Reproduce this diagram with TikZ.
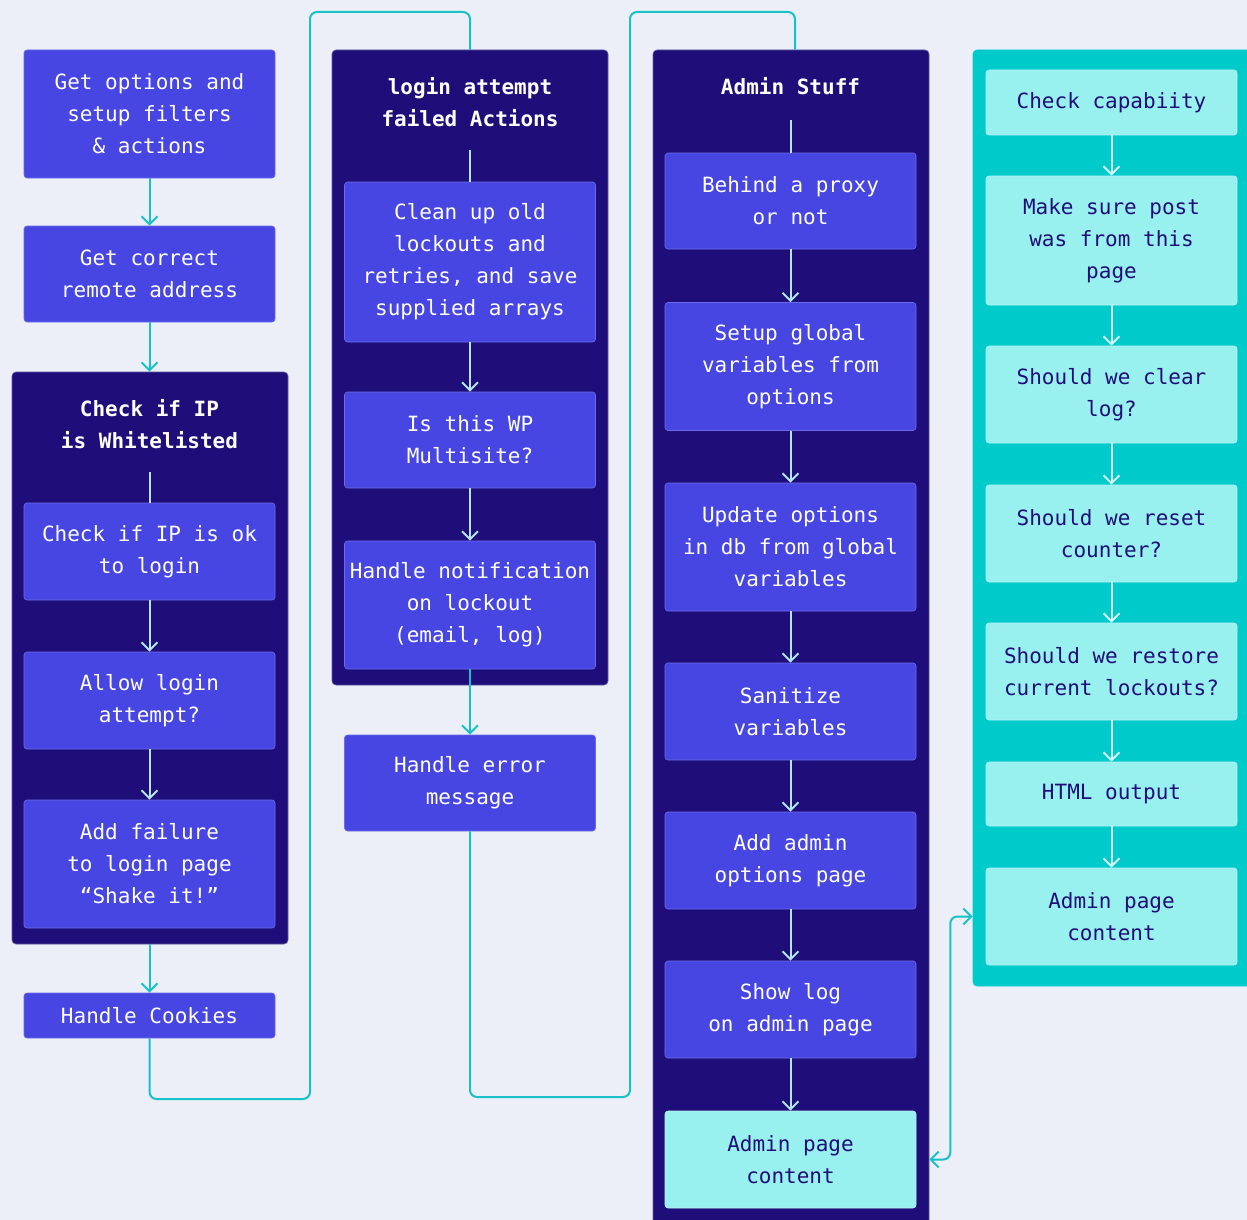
\documentclass[tikz,border=0pt]{standalone}
\usepackage{fontspec}
\setmainfont{DejaVu Sans Mono}
\usepackage{xcolor}
\usetikzlibrary{arrows.meta, positioning}

\definecolor{bgpage}{HTML}{ECEFF8}
\definecolor{stepblue}{HTML}{4746E3}
\definecolor{grpdark}{HTML}{1F0E79}
\definecolor{grpcyan}{HTML}{00CACA}
\definecolor{lightcyan}{HTML}{98F0EF}
\definecolor{linkcyan}{HTML}{17C1C7}
\definecolor{innerline}{HTML}{B4E6F0}
\definecolor{permline}{HTML}{D4F8F7}

\tikzset{
  chev/.tip={Straight Barb[length=8pt,width=16pt]},
  stepbox/.style={rectangle, rounded corners=3pt, fill=stepblue,
    draw=stepblue!80!white, line width=0.6pt, text=white, align=center,
    minimum width=251pt, inner sep=2pt, font=\fontsize{21}{32}\selectfont},
  lightbox/.style={stepbox, fill=lightcyan, draw=lightcyan!70!white, text=grpdark},
  grpbox/.style={rectangle, rounded corners=4pt, fill=grpdark,
    draw=grpdark!70!white, line width=0.6pt, minimum width=276pt},
  grptitle/.style={text=white, align=center, font=\fontsize{21}{32}\selectfont\bfseries},
  linkline/.style={draw=linkcyan, line width=2pt, rounded corners=7pt},
  flowline/.style={linkline, -chev},
  inflow/.style={flowline, draw=innerline},
  inline/.style={linkline, draw=innerline},
  permflow/.style={flowline, draw=permline},
}

\begin{document}
\begin{tikzpicture}[x=1pt, y=-1pt]

\useasboundingbox (0,0) rectangle (1247,1220);
\fill[bgpage] (0,0) rectangle (1247,1220);

% containers
\node[grpbox, minimum height=572pt] (wl) at (150,658) {};
\node[grpbox, minimum height=635pt] (fa) at (470,367.5) {};
\node[grpbox, minimum height=1190pt] (adm) at (791,645) {};
\node[grpbox, fill=grpcyan, draw=grpcyan, minimum width=290pt,
      minimum height=936pt] (perm) at (1118,518) {};

% column 1
\node[stepbox, minimum height=128pt] (opts) at (149.5,114)
  {Get options and\\setup filters\\\& actions};
\node[stepbox, minimum height=96pt] (addr) at (149.5,274)
  {Get correct\\remote address};
\node[grptitle] (wlt) at (149.5,424) {Check if IP\\is Whitelisted};
\coordinate (wltop) at (149.5,472);
\node[stepbox, minimum height=97pt] (ipok) at (149.5,551.5)
  {Check if IP is ok\\to login};
\node[stepbox, minimum height=97pt] (allow) at (149.5,700.5)
  {Allow login\\attempt?};
\node[stepbox, minimum height=128pt] (fail) at (149.5,864)
  {Add failure\\to login page\\“Shake it!”};
\node[stepbox, minimum height=45pt] (cookies) at (149.5,1015.5)
  {Handle Cookies};

% column 2
\node[grptitle] (fat) at (470,102) {login attempt\\failed Actions};
\coordinate (fatop) at (470,150);
\node[stepbox, minimum height=160pt] (clean) at (470,262)
  {Clean up old\\lockouts and\\retries, and save\\supplied arrays};
\node[stepbox, minimum height=96pt] (multi) at (470,440)
  {Is this WP\\Multisite?};
\node[stepbox, minimum height=128pt] (notify) at (470,605)
  {Handle notification\\on lockout\\(email, log)};
\node[stepbox, minimum height=96pt] (err) at (470,783)
  {Handle error\\message};

% column 3
\node[grptitle] (admt) at (790.5,86) {Admin Stuff};
\coordinate (admtop) at (790.5,120);
\node[stepbox, minimum height=96pt] (proxy) at (790.5,201)
  {Behind a proxy\\or not};
\node[stepbox, minimum height=128pt] (glob) at (790.5,366.5)
  {Setup global\\variables from\\options};
\node[stepbox, minimum height=128pt] (upd) at (790.5,547)
  {Update options\\in db from global\\variables};
\node[stepbox, minimum height=97pt] (san) at (790.5,711.5)
  {Sanitize\\variables};
\node[stepbox, minimum height=97pt] (menu) at (790.5,860.5)
  {Add admin\\options page};
\node[stepbox, minimum height=97pt] (log) at (790.5,1009.5)
  {Show log\\on admin page};
\node[lightbox, minimum height=97pt] (cont) at (790.5,1159.5)
  {Admin page\\content};

% column 4
\node[lightbox, minimum height=65pt] (cap) at (1111.5,102.5)
  {Check capabiity};
\node[lightbox, minimum height=129pt] (post) at (1111.5,240.5)
  {Make sure post\\was from this\\page};
\node[lightbox, minimum height=97pt] (clr) at (1111.5,394.5)
  {Should we clear\\log?};
\node[lightbox, minimum height=97pt] (rst) at (1111.5,533.5)
  {Should we reset\\counter?};
\node[lightbox, minimum height=97pt] (rest) at (1111.5,671.5)
  {Should we restore\\current lockouts?};
\node[lightbox, minimum height=64pt] (html) at (1111.5,794)
  {HTML output};
\node[lightbox, minimum height=97pt] (page) at (1111.5,916.5)
  {Admin page\\content};

% connectors, column 1
\draw[flowline] (opts) -- (addr);
\draw[flowline] (addr) -- (addr |- wl.north);
\draw[inline] (wltop) -- (ipok);
\draw[inflow] (ipok) -- (allow);
\draw[inflow] (allow) -- (fail);
\draw[flowline] (cookies |- wl.south) -- (cookies);
\coordinate (b1) at (310,1099);
\coordinate (b2) at (310,12);
\draw[linkline] (cookies) |- (b1) -- (b2) -| (fa);

% connectors, column 2
\draw[inline] (fatop) -- (clean);
\draw[inflow] (clean) -- (multi);
\draw[inflow] (multi) -- (notify);
\draw[flowline] (notify) -- (err);
\coordinate (b3) at (630,1097);
\coordinate (b4) at (630,12);
\coordinate (b5) at (795,12);
\draw[linkline] (err) |- (b3) -- (b4) -- (b5) -- (b5 |- adm.north);

% connectors, column 3
\draw[inline] (admtop) -- (proxy);
\draw[inflow] (proxy) -- (glob);
\draw[inflow] (glob) -- (upd);
\draw[inflow] (upd) -- (san);
\draw[inflow] (san) -- (menu);
\draw[inflow] (menu) -- (log);
\draw[inflow] (log) -- (cont);

% connectors, column 4
\draw[permflow] (cap) -- (post);
\draw[permflow] (post) -- (clr);
\draw[permflow] (clr) -- (rst);
\draw[permflow] (rst) -- (rest);
\draw[permflow] (rest) -- (html);
\draw[permflow] (html) -- (page);

\draw[linkline, chev-chev] (cont -| adm.east) -- ++(21,0) |- (page -| perm.west);

\end{tikzpicture}
\end{document}
